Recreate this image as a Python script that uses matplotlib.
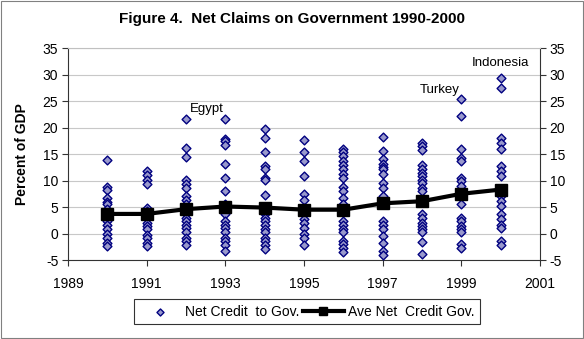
import matplotlib
matplotlib.use("Agg")
import matplotlib.pyplot as plt
import numpy as np

plt.rcParams['font.family'] = ['Liberation Sans', 'DejaVu Sans']
plt.rcParams['axes.unicode_minus'] = False

years = [1990, 1991, 1992, 1993, 1994, 1995, 1996, 1997, 1998, 1999, 2000]

net_credit = {
    1990: [13.9, 8.8, 8.2, 6.8, 6.0, 5.5, 4.6, 3.9, 3.0, 2.4, 1.6, 0.8, 0.0, -0.8, -1.7, -2.4],
    1991: [11.8, 11.0, 10.2, 9.4, 4.9, 4.2, 3.6, 3.0, 2.0, 1.4, 0.8, -0.2, -0.8, -1.7, -2.4],
    1992: [21.7, 16.2, 14.4, 10.2, 9.3, 8.6, 7.1, 6.4, 5.5, 3.6, 3.0, 2.4, 1.7, 1.1, 0.2, -0.8, -1.4, -2.2],
    1993: [21.7, 17.9, 17.4, 16.8, 13.1, 10.5, 8.0, 5.5, 4.9, 3.6, 2.4, 1.7, 1.1, 0.2, -0.8, -1.4, -2.2, -3.3],
    1994: [19.7, 18.1, 15.3, 12.7, 12.1, 10.5, 10.2, 7.3, 3.6, 3.0, 2.4, 1.7, 0.8, 0.2, -0.8, -1.4, -2.2, -3.0],
    1995: [17.6, 15.3, 13.7, 10.8, 7.4, 6.4, 4.9, 3.6, 2.7, 1.9, 1.1, 0.0, -0.8, -2.2],
    1996: [15.9, 15.3, 14.6, 13.7, 12.9, 12.1, 11.2, 10.5, 8.8, 8.0, 6.8, 5.5, 2.4, 1.7, 0.8, 0.2, -1.4, -2.0, -2.8, -3.4],
    1997: [18.3, 15.6, 14.0, 13.1, 12.5, 12.1, 11.2, 9.6, 8.6, 7.1, 2.4, 1.7, 0.8, -0.5, -1.7, -3.3, -4.1],
    1998: [17.1, 16.5, 15.7, 12.9, 12.1, 11.5, 10.8, 10.2, 9.6, 8.6, 8.0, 3.6, 3.0, 2.0, 1.4, 0.8, 0.2, -1.6, -3.9],
    1999: [25.4, 22.2, 15.9, 14.3, 13.7, 10.5, 9.9, 9.0, 5.5, 3.0, 2.4, 1.4, 0.8, 0.2, -2.0, -2.7],
    2000: [29.4, 27.5, 18.1, 17.1, 15.9, 12.7, 11.8, 10.8, 8.0, 7.1, 6.1, 5.2, 3.6, 2.7, 1.7, 1.1, -1.4, -2.2],
}

ave_credit = [3.7, 3.7, 4.6, 5.1, 4.9, 4.5, 4.5, 5.7, 6.1, 7.5, 8.3]

fig = plt.figure(figsize=(5.84, 3.39), dpi=100)
ax = fig.add_axes([0.1164, 0.233, 0.8083, 0.625])

xs = np.concatenate([[y] * len(net_credit[y]) for y in years])
vs = np.concatenate([net_credit[y] for y in years])
ax.scatter(xs, vs, marker='D', s=20, facecolor='#9999cc', edgecolor='#000080',
           linewidths=1.0, zorder=3, label='Net Credit  to Gov.')
ax.plot(years, ave_credit, color='black', lw=3, marker='s', markersize=8,
        zorder=4, label='Ave Net  Credit Gov.')

ax.text(1992.1, 22.3, "Egypt", fontsize=9.5, ha='left', va='bottom')
ax.text(1998.95, 25.9, "Turkey", fontsize=9.5, ha='right', va='bottom')
ax.text(2000.0, 32.2, "Indonesia", fontsize=9.5, ha='center', va='center',
        bbox=dict(facecolor='white', edgecolor='none', pad=1))

ax.set_xlim(1989, 2001)
ax.set_ylim(-5, 35)
ax.set_xticks(range(1989, 2002, 2))
ax.set_yticks(range(-5, 36, 5))
ax.yaxis.grid(True, color='#c8c8c8', lw=0.8)
ax.set_axisbelow(True)
ax.tick_params(axis='both', direction='out', labelsize=10, length=4, color='#333333')
ax.tick_params(axis='x', pad=8)
ax.tick_params(axis='y', right=True, labelright=True, pad=3)
ax.spines['top'].set_color('#c0c0c0')
for sp in ['left', 'right', 'bottom']:
    ax.spines[sp].set_color('#333333')
ax.set_ylabel("Percent of GDP", fontsize=10, fontweight='bold', labelpad=10)

fig.suptitle("Figure 4.  Net Claims on Government 1990-2000", fontsize=11,
             fontweight='bold', y=0.965)

leg = fig.legend(loc='center', bbox_to_anchor=(0.526, 0.081), ncol=2, fontsize=10,
                 frameon=True, fancybox=False, edgecolor='black', handlelength=3.0,
                 columnspacing=0.2, handletextpad=0.3, borderpad=0.4, markerscale=0.8)
leg.get_frame().set_linewidth(0.8)

fig.patches.append(plt.Rectangle((0.002, 0.003), 0.996, 0.994, transform=fig.transFigure,
                                 fill=False, edgecolor='#808080', lw=0.8))

fig.savefig("out.png", dpi=100)
